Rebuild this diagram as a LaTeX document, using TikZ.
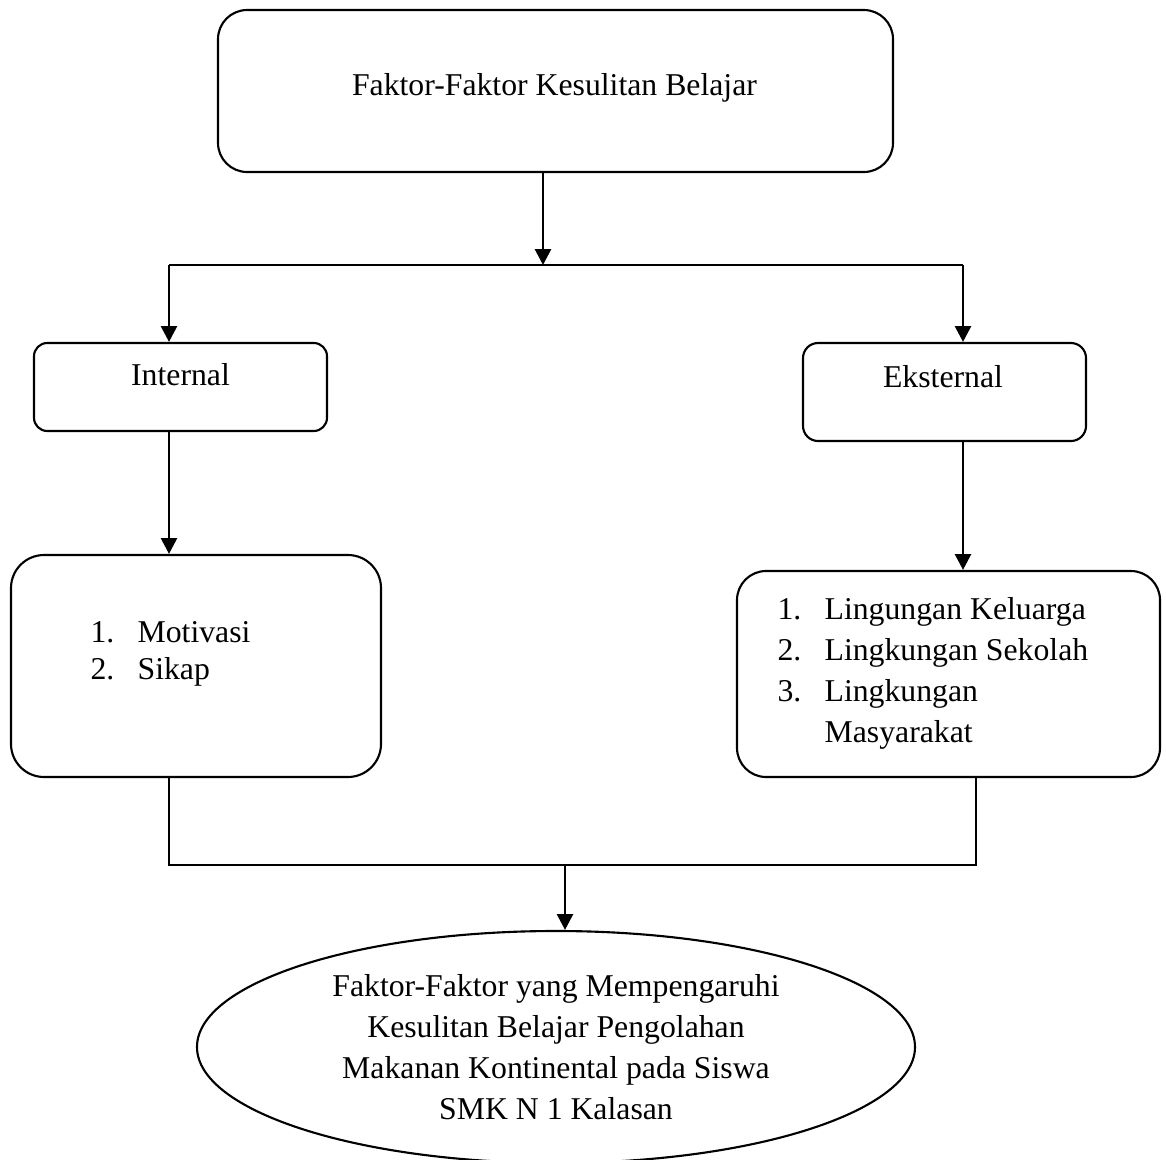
\documentclass[tikz,border=0pt]{standalone}
\usepackage{fontspec}
\setmainfont{Liberation Serif}
\usetikzlibrary{arrows.meta,shapes.geometric}
\newcommand\pxu{0.378pt}

\begin{document}
\begin{tikzpicture}[x=\pxu,y=-\pxu,font=\fontsize{12}{15.5}\selectfont,
    kotak/.style={draw,line width=0.8pt,inner sep=0pt},
    panah/.style={line width=1.1pt,-{Triangle[width=6pt,length=6pt]}},
    garis/.style={line width=0.8pt}]
    \useasboundingbox (0,0) rectangle (1166,1160);
    \clip (0,0) rectangle (1166,1160);

    % Kotak-kotak:
    % Ukuran diberikan dalam piksel gambar, dikali \pxu
    \node [kotak,rounded corners=11pt,minimum width=675*\pxu,minimum height=162*\pxu] (judul) at (555.5,91) {};
    \node [kotak,rounded corners=5pt,minimum width=293*\pxu,minimum height=88*\pxu] (intern) at (180.5,387) {};
    \node [kotak,rounded corners=5.7pt,minimum width=283*\pxu,minimum height=98*\pxu] (ekstern) at (944.5,392) {};
    \node [kotak,rounded corners=12.5pt,minimum width=370*\pxu,minimum height=222*\pxu] (listkiri) at (196,666) {};
    \node [kotak,rounded corners=11pt,minimum width=423*\pxu,minimum height=206*\pxu] (listkanan) at (948.5,674) {};
    \node [kotak,ellipse,align=center,minimum width=718*\pxu,minimum height=232*\pxu] (hasil) at (556,1047)
        {Faktor-Faktor yang Mempengaruhi\\Kesulitan Belajar Pengolahan\\Makanan Kontinental pada Siswa\\SMK N 1 Kalasan};

    % Teks di dalam kotak:
    \node [anchor=base] (judul-teks) at (554.5,95) {Faktor-Faktor Kesulitan Belajar};
    \node [anchor=base] (intern-teks) at (180.5,385) {Internal};
    \node [anchor=base] (ekstern-teks) at (943,387) {Eksternal};
    \node [anchor=base west,inner sep=0pt] (listkiri-teks) at (90,642)
        {\begin{tabular}[t]{@{}p{17.8pt}@{}l@{}}
            1. & Motivasi\\[-1.3pt]
            2. & Sikap
        \end{tabular}};
    \node [anchor=base west,inner sep=0pt] (listkanan-teks) at (777,619)
        {\begin{tabular}[t]{@{}p{17.8pt}@{}l@{}}
            1. & Lingungan Keluarga\\
            2. & Lingkungan Sekolah\\
            3. & Lingkungan\\
               & Masyarakat
        \end{tabular}};

    % Titik cabang:
    \coordinate (cabang) at (543,265);
    \coordinate (ki) at (169,265);
    \coordinate (ka) at (963,265);
    \coordinate (gabung) at (565,865);
    \coordinate (kb) at (976,865);

    % Penghubung:
    \draw [panah] (cabang |- judul.south) -- (cabang);
    \draw [garis] (ki) -- (ka);
    \draw [panah] (ki) -- (ki |- intern.north);
    \draw [panah] (ka) -- (ka |- ekstern.north);
    \draw [panah] (ki |- intern.south) -- (ki |- listkiri.north);
    \draw [panah] (ka |- ekstern.south) -- (ka |- listkanan.north);
    \draw [garis] (ki |- listkiri.south) |- (kb) -- (kb |- listkanan.south);
    \draw [panah] (gabung) -- (gabung |- hasil.north);
\end{tikzpicture}
\end{document}
